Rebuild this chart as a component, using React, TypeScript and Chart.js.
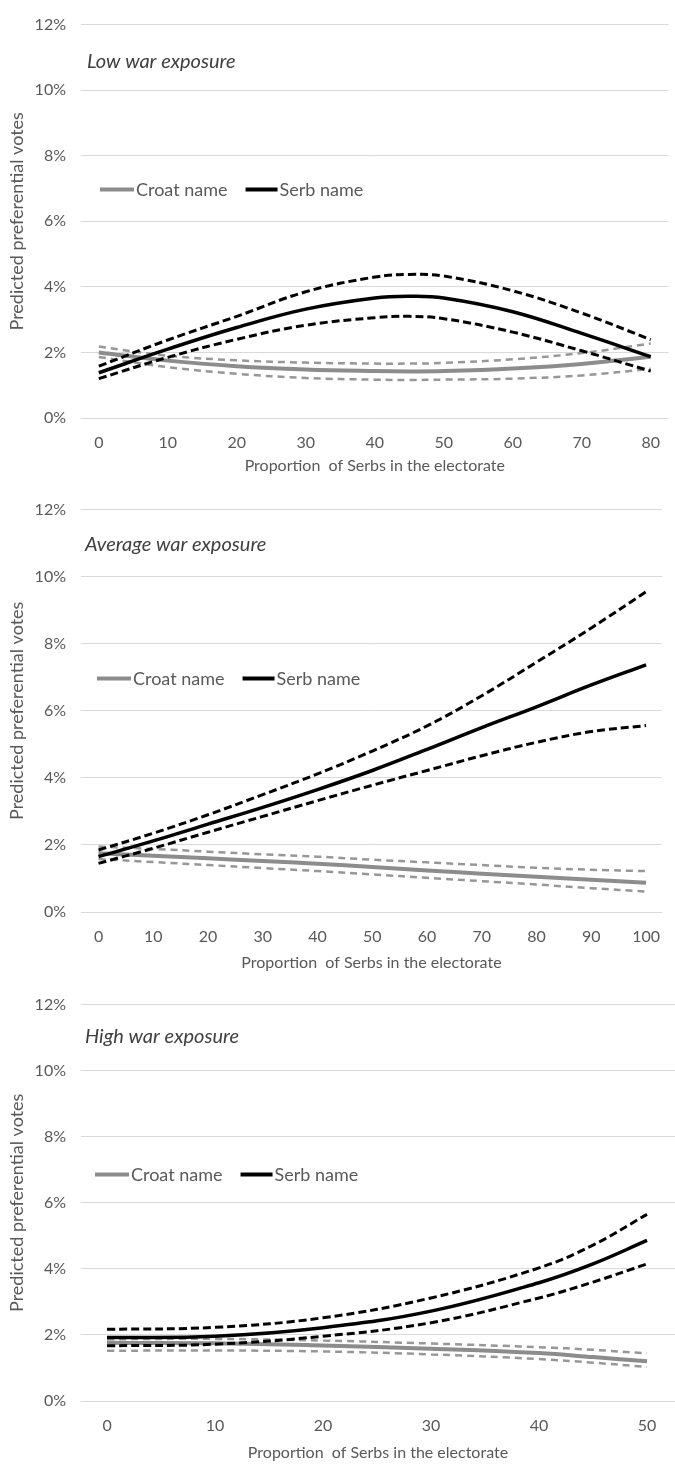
import React, { useEffect, useRef } from "react";
import { Chart, registerables } from "chart.js";

Chart.register(...registerables);

// ---------- data ----------
const yTickValues = [0, 2, 4, 6, 8, 10, 12];
const xAxisTitle = "Proportion  of Serbs in the electorate";
const yAxisTitle = "Predicted preferential votes";
const legendCroat = "Croat name";
const legendSerb = "Serb name";

// Panel 1: Low war exposure
const lowTitle = "Low war exposure";
const lowX = [0, 10, 20, 30, 40, 45, 50, 60, 70, 80];
const lowTicks = [0, 10, 20, 30, 40, 50, 60, 70, 80];
const lowSerb = [1.38, 2.1, 2.76, 3.32, 3.66, 3.71, 3.66, 3.24, 2.58, 1.87];
const lowSerbUpper = [1.58, 2.38, 3.1, 3.85, 4.3, 4.38, 4.33, 3.88, 3.2, 2.39];
const lowSerbLower = [1.2, 1.85, 2.4, 2.83, 3.06, 3.1, 3.03, 2.62, 2.05, 1.43];
const lowCroat = [2.0, 1.75, 1.58, 1.48, 1.43, 1.42, 1.43, 1.51, 1.65, 1.87];
const lowCroatUpper = [2.18, 1.9, 1.76, 1.69, 1.66, 1.66, 1.68, 1.79, 1.98, 2.27];
const lowCroatLower = [1.86, 1.55, 1.35, 1.22, 1.17, 1.16, 1.17, 1.2, 1.3, 1.5];

// Panel 2: Average war exposure
const avgTitle = "Average war exposure";
const avgX = [0, 10, 20, 30, 40, 50, 60, 70, 80, 90, 100];
const avgTicks = [0, 10, 20, 30, 40, 50, 60, 70, 80, 90, 100];
const avgSerb = [1.65, 2.12, 2.62, 3.12, 3.65, 4.22, 4.85, 5.5, 6.12, 6.77, 7.37];
const avgSerbUpper = [1.85, 2.35, 2.9, 3.5, 4.12, 4.8, 5.55, 6.45, 7.45, 8.47, 9.55];
const avgSerbLower = [1.45, 1.9, 2.38, 2.85, 3.32, 3.78, 4.22, 4.66, 5.06, 5.38, 5.56];
const avgCroat = [1.75, 1.68, 1.6, 1.52, 1.44, 1.34, 1.24, 1.14, 1.05, 0.96, 0.87];
const avgCroatUpper = [1.95, 1.88, 1.8, 1.72, 1.65, 1.56, 1.48, 1.4, 1.32, 1.26, 1.22];
const avgCroatLower = [1.58, 1.49, 1.4, 1.31, 1.22, 1.12, 1.02, 0.92, 0.82, 0.71, 0.61];

// Panel 3: High war exposure
const highTitle = "High war exposure";
const highX = [0, 10, 20, 30, 40, 45, 50];
const highTicks = [0, 10, 20, 30, 40, 50];
const highSerb = [1.92, 1.96, 2.22, 2.72, 3.58, 4.15, 4.86];
const highSerbUpper = [2.17, 2.23, 2.52, 3.12, 4.03, 4.72, 5.65];
const highSerbLower = [1.67, 1.72, 1.96, 2.37, 3.12, 3.6, 4.15];
const highCroat = [1.76, 1.75, 1.68, 1.58, 1.45, 1.33, 1.2];
const highCroatUpper = [1.87, 1.88, 1.83, 1.74, 1.63, 1.55, 1.44];
const highCroatLower = [1.52, 1.53, 1.5, 1.41, 1.27, 1.16, 1.03];

// ---------- styling / layout ----------
const FONT = "Lato, 'Open Sans', sans-serif";
const TEXT = "#595959";
const GRID = "#d9d9d9";
const BLACK = "#000000";
const GRAY = "#8c8c8c";
const GRAY_DASH = "#979797";

type PanelCfg = {
  title: string;
  xs: number[];
  ticks: number[];
  serb: number[];
  serbUp: number[];
  serbLo: number[];
  croat: number[];
  croatUp: number[];
  croatLo: number[];
  xMin: number;
  xMax: number;
  canvasTop: number;
  canvasHeight: number;
  plotTop: number;
  plotBottom: number;
  titleX: number;
  titleDy: number;
  legendX: number;
  legendDy: number;
};

const panels: PanelCfg[] = [
  {
    title: lowTitle, xs: lowX, ticks: lowTicks,
    serb: lowSerb, serbUp: lowSerbUpper, serbLo: lowSerbLower,
    croat: lowCroat, croatUp: lowCroatUpper, croatLo: lowCroatLower,
    xMin: -2.58, xMax: 82.58,
    canvasTop: 0, canvasHeight: 479, plotTop: 15, plotBottom: 418,
    titleX: 87, titleDy: 37, legendX: 100, legendDy: 165,
  },
  {
    title: avgTitle, xs: avgX, ticks: avgTicks,
    serb: avgSerb, serbUp: avgSerbUpper, serbLo: avgSerbLower,
    croat: avgCroat, croatUp: avgCroatUpper, croatLo: avgCroatLower,
    xMin: -3.2, xMax: 102.9,
    canvasTop: 485, canvasHeight: 491, plotTop: 508, plotBottom: 912,
    titleX: 85, titleDy: 35, legendX: 97, legendDy: 169,
  },
  {
    title: highTitle, xs: highX, ticks: highTicks,
    serb: highSerb, serbUp: highSerbUpper, serbLo: highSerbLower,
    croat: highCroat, croatUp: highCroatUpper, croatLo: highCroatLower,
    xMin: -2.41, xMax: 52.59,
    canvasTop: 980, canvasHeight: 486, plotTop: 1002, plotBottom: 1401,
    titleX: 85, titleDy: 32, legendX: 95, legendDy: 170,
  },
];

function makeOverlay(p: PanelCfg) {
  return {
    id: "overlay",
    afterDraw(chart: any) {
      const ctx = chart.ctx as CanvasRenderingContext2D;
      const area = chart.chartArea;
      ctx.save();
      // panel title
      ctx.font = `italic 20px ${FONT}`;
      ctx.fillStyle = "#404040";
      ctx.textBaseline = "middle";
      ctx.textAlign = "left";
      ctx.fillText(p.title, p.titleX, area.top + p.titleDy);
      // legend
      const items = chart.data.datasets.filter((d: any) => d.showInLegend);
      items.sort((a: any, b: any) => a.legendOrder - b.legendOrder);
      let x = p.legendX;
      const y = area.top + p.legendDy;
      ctx.font = `18px ${FONT}`;
      items.forEach((d: any, i: number) => {
        const len = i === 0 ? 34 : 32;
        ctx.beginPath();
        ctx.strokeStyle = d.borderColor;
        ctx.lineWidth = 4;
        ctx.moveTo(x, y);
        ctx.lineTo(x + len, y);
        ctx.stroke();
        x += len + 2;
        ctx.fillStyle = TEXT;
        ctx.fillText(d.label, x, y + 1);
        x += ctx.measureText(d.label).width + 18;
      });
      ctx.restore();
    },
  };
}

function PanelChart({ p }: { p: PanelCfg }) {
  const ref = useRef<HTMLCanvasElement | null>(null);
  useEffect(() => {
    if (!ref.current) return;
    const pts = (ys: number[]) => p.xs.map((x, i) => ({ x, y: ys[i] }));
    const blackDash = [8, 4];
    const grayDash = [7, 5];
    const chart = new Chart(ref.current, {
      type: "line",
      data: {
        datasets: [
          { label: legendSerb, data: pts(p.serb), borderColor: BLACK, borderWidth: 3.5, showInLegend: true, legendOrder: 2 } as any,
          { label: "Serb upper", data: pts(p.serbUp), borderColor: BLACK, borderWidth: 3, borderDash: blackDash },
          { label: "Serb lower", data: pts(p.serbLo), borderColor: BLACK, borderWidth: 3, borderDash: blackDash },
          { label: legendCroat, data: pts(p.croat), borderColor: GRAY, borderWidth: 4, showInLegend: true, legendOrder: 1 } as any,
          { label: "Croat upper", data: pts(p.croatUp), borderColor: GRAY_DASH, borderWidth: 2.5, borderDash: grayDash },
          { label: "Croat lower", data: pts(p.croatLo), borderColor: GRAY_DASH, borderWidth: 2.5, borderDash: grayDash },
        ],
      },
      options: {
        animation: false,
        responsive: false,
        maintainAspectRatio: false,
        layout: { padding: { top: p.plotTop - p.canvasTop, left: 0, right: 0, bottom: 0 } },
        elements: {
          point: { radius: 0, hoverRadius: 0 },
          line: { tension: 0.4, fill: false, borderCapStyle: "butt" },
        },
        plugins: { legend: { display: false }, tooltip: { enabled: false } },
        scales: {
          x: {
            type: "linear",
            min: p.xMin,
            max: p.xMax,
            afterBuildTicks: (axis: any) => {
              axis.ticks = p.ticks.map((v) => ({ value: v }));
            },
            afterFit: (s: any) => {
              s.height = p.canvasTop + p.canvasHeight - p.plotBottom;
            },
            grid: { display: false, drawTicks: false },
            border: { display: false },
            ticks: {
              padding: 15,
              color: TEXT,
              font: { family: FONT, size: 16 },
              maxRotation: 0,
              callback: (v: any) => String(v),
            },
            title: {
              display: true,
              text: xAxisTitle,
              color: TEXT,
              font: { family: FONT, size: 16 },
              padding: { top: 4, bottom: 4 },
            },
          },
          y: {
            min: 0,
            max: 12,
            afterBuildTicks: (axis: any) => {
              axis.ticks = yTickValues.map((v) => ({ value: v }));
            },
            afterFit: (s: any) => {
              s.width = 81;
            },
            grid: { color: GRID, lineWidth: 1, drawTicks: false },
            border: { display: false },
            ticks: {
              padding: 15,
              color: TEXT,
              font: { family: FONT, size: 16 },
              callback: (v: any) => v + "%",
            },
            title: {
              display: true,
              text: yAxisTitle,
              color: TEXT,
              font: { family: FONT, size: 18 },
              padding: { top: 6, bottom: 0 },
            },
          },
        },
      },
      plugins: [makeOverlay(p)],
    } as any);
    return () => chart.destroy();
  }, [p]);
  return (
    <canvas
      ref={ref}
      width={675}
      height={p.canvasHeight}
      style={{ position: "absolute", left: 0, top: p.canvasTop, width: 675, height: p.canvasHeight, display: "block" }}
    />
  );
}

export default function App() {
  return (
    <div style={{ position: "absolute", left: 0, top: 0, width: 675, height: 1465, background: "#ffffff" }}>
      {panels.map((p, i) => (
        <PanelChart key={i} p={p} />
      ))}
    </div>
  );
}
